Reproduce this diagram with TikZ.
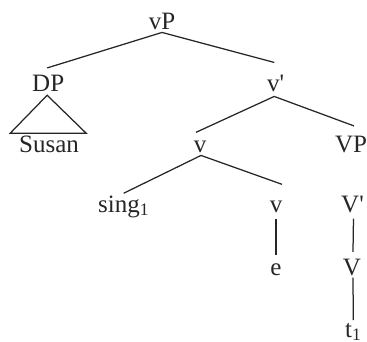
\documentclass[tikz,border=0pt]{standalone}
\usepackage{fontspec}
\setmainfont{Liberation Serif}
\begin{document}
\begin{tikzpicture}[x=1pt,y=1pt,
  lbl/.style={inner sep=0pt,anchor=base,font=\fontsize{25}{30}\selectfont,text=black!85},
  lblw/.style={lbl,anchor=base west},
  edge/.style={line width=1.25pt,draw=black!85}]
\useasboundingbox (0,0) rectangle (367,341);
% nodes
\node[lbl] (vP) at (162,311) {vP};
\node[lblw] (DP) at (32,250) {DP};
\node[lblw] (vbar) at (267,250) {v\textquotesingle};
\node[lbl] (Susan) at (49,189) {Susan};
\node[lbl] (vmid) at (200,189) {v};
\node[lbl] (VP) at (351,189) {VP};
\node[lblw] (sing) at (98,129) {sing\textsubscript{1}};
\node[lbl] (vlow) at (276,129) {v};
\node[lblw] (Vbar) at (341,129) {V\textquotesingle};
\node[lbl] (e) at (276,66) {e};
\node[lbl] (V) at (352,66) {V};
\node[lblw] (t) at (345,4) {t\textsubscript{1}};
% connectors
\draw[edge] ([yshift=-2pt]vP.south) -- ([shift={(-1pt,6.5pt)}]DP.north);
\draw[edge] ([yshift=-2pt]vP.south) -- ([shift={(-1.5pt,12pt)}]vbar.north);
\draw[edge] ([shift={(-1.5pt,-5pt)}]vbar.south) -- ([shift={(-4pt,8pt)}]vmid.north);
\draw[edge] ([shift={(-1.5pt,-5pt)}]vbar.south) -- ([shift={(3pt,9.5pt)}]VP.north);
\draw[edge] ([shift={(1pt,-3pt)}]vmid.south) -- ([shift={(0pt,2pt)}]sing.north);
\draw[edge] ([shift={(1pt,-3pt)}]vmid.south) -- ([shift={(6pt,16pt)}]vlow.north);
\draw[edge] ([yshift=-7pt]vlow.south) -- ([yshift=8.5pt]e.north);
\draw[edge] ([shift={(1pt,-6pt)}]Vbar.south) -- ([shift={(1pt,6.5pt)}]V.north);
\draw[edge] ([shift={(1pt,-2pt)}]V.south) -- ([yshift=2.5pt]t.north);
% triangle under DP
\draw[edge,line join=miter] ([shift={(-1pt,-4pt)}]DP.south) -- ++(-37,-38) -- ++(76,0) -- cycle;
\end{tikzpicture}
\end{document}
